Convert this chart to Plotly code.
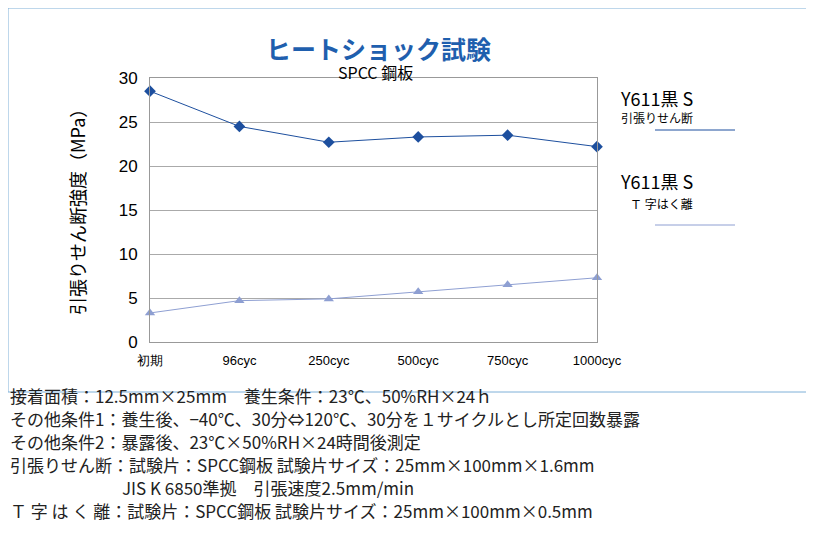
import plotly.graph_objects as go

categories = ["初期", "96cyc", "250cyc", "500cyc", "750cyc", "1000cyc"]
shear = [28.5, 24.5, 22.7, 23.3, 23.5, 22.2]
peel = [3.3, 4.7, 4.9, 5.7, 6.5, 7.3]
notes = [
    "接着面積：12.5mm×25mm　養生条件：23℃、50%RH×24ｈ",
    "その他条件1：養生後、−40℃、30分⇔120℃、30分を１サイクルとし所定回数暴露",
    "その他条件2：暴露後、23℃×50%RH×24時間後測定",
    "引張りせん断：試験片：SPCC鋼板 試験片サイズ：25mm×100mm×1.6mm",
    "JIS K 6850準拠　引張速度2.5mm/min",
    "Ｔ 字 は く 離：試験片：SPCC鋼板 試験片サイズ：25mm×100mm×0.5mm",
]

OFF = 8  # page offset of the plot in the browser
W, H = 814, 536
L, R, T, B = 150 - OFF, 597 - OFF, 78 - OFF, 342 - OFF
DARK, LIGHT = "#1d4f9e", "#8e9fd2"
FONT = "Noto Sans CJK JP"


def px(x):
    return (x - OFF - L) / (R - L)


def py(y):
    return (B - (y - OFF)) / (B - T)


xs = list(range(len(categories)))
fig = go.Figure()
fig.add_trace(go.Scatter(x=xs, y=shear, mode="lines+markers", cliponaxis=False,
                         line=dict(color=DARK, width=1),
                         marker=dict(symbol="diamond", size=9, color=DARK)))
fig.add_trace(go.Scatter(x=xs, y=peel, mode="lines+markers", cliponaxis=False,
                         line=dict(color=LIGHT, width=1),
                         marker=dict(symbol="triangle-up", size=9, color=LIGHT)))

shapes = [
    dict(type="rect", xref="paper", yref="paper", x0=px(OFF), x1=px(813), y0=py(OFF), y1=py(392),
         line=dict(color="#7fb0d8", width=1)),
]
ann = [
    dict(text="<b>ヒートショック試験</b>", x=px(378), y=py(28), font=dict(size=25, color="#1f5fae")),
    dict(text="SPCC 鋼板", x=px(375), y=py(58), font=dict(size=16)),
    dict(text="引張りせん断強度（MPa）", x=px(62), y=py(208), textangle=-90, font=dict(size=18)),
    dict(text="Y611黒 S", x=px(695), y=py(83), font=dict(size=18)),
    dict(text="引張りせん断", x=px(695), y=py(107), font=dict(size=12)),
    dict(text="Y611黒 S", x=px(695), y=py(181), font=dict(size=18)),
    dict(text="Ｔ 字はく離", x=px(695), y=py(203), font=dict(size=12)),
]
for a in ann:
    a.update(xref="paper", yref="paper", showarrow=False)
    a["font"].setdefault("color", "black")

# legend lines and markers, placed in data coords outside the plot area
for yy, col, sym, size in [(130, DARK, "diamond", 20), (225, LIGHT, "triangle-up", 18)]:
    shapes.append(dict(type="line", xref="paper", yref="paper", x0=px(655), x1=px(735),
                       y0=py(yy), y1=py(yy), line=dict(color=col, width=1)))
    fig.add_trace(go.Scatter(x=[px(694) * 5], y=[py(yy) * 30], mode="markers",
                             marker=dict(symbol=sym, size=size, color=col), cliponaxis=False))

note_y = [410, 433, 456, 479, 502, 525]
for i, (t, yy) in enumerate(zip(notes, note_y)):
    ann.append(dict(text=t, x=px(120 if i == 4 else OFF), y=py(yy), xref="paper", yref="paper",
                    xanchor="left", showarrow=False, font=dict(size=17, color="#222")))

fig.update_layout(
    width=W, height=H, margin=dict(l=L, r=W - R, t=T, b=H - B),
    paper_bgcolor="white", plot_bgcolor="white", showlegend=False,
    font=dict(family=FONT, color="black"),
    xaxis=dict(range=[0, 5], tickvals=xs, ticktext=categories, showgrid=False, zeroline=False,
               showline=True, linecolor="#999", mirror=True, ticks="",
               tickfont=dict(size=13, family="Liberation Sans"), ticklabelstandoff=6),
    yaxis=dict(range=[0, 30], dtick=5, showgrid=True, gridcolor="#aaa", zeroline=False,
               showline=True, linecolor="#999", mirror=True, ticks="",
               tickfont=dict(size=17, family="Liberation Sans"), ticklabelstandoff=8),
    shapes=shapes, annotations=ann,
)
fig.write_html("out.html")
